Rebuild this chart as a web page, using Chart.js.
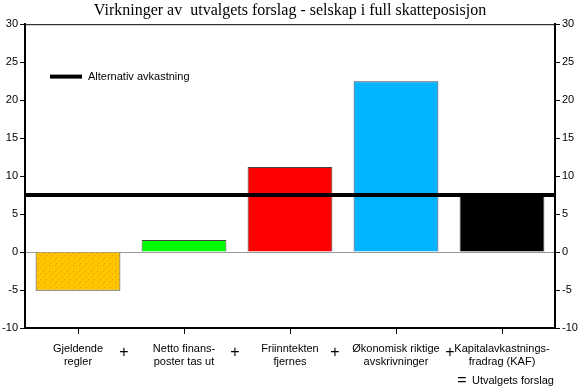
<!DOCTYPE html>
<html>
<head>
<meta charset="utf-8">
<script src="https://cdn.jsdelivr.net/npm/chart.js@4/dist/chart.umd.min.js"></script>
<style>
  html, body { margin: 0; padding: 0; background: #fff; }
  #wrap { width: 580px; height: 390px; }
</style>
</head>
<body>
<div id="wrap"><canvas id="my-canvas" width="580" height="390"></canvas></div>
<script>
const categories = [
  ['Gjeldende', 'regler'],
  ['Netto finans-', 'poster tas ut'],
  ['Friinntekten', 'fjernes'],
  ['Økonomisk riktige', 'avskrivninger'],
  ['Kapitalavkastnings-', 'fradrag (KAF)'],
];
const effects = [-5.1, 1.6, 11.2, 22.5, 7.5];
const altReturn = 7.5;
const barColors = ['#FFC600', '#00FF00', '#FF0000', '#00B4FF', '#000000'];
const titleText = 'Virkninger av  utvalgets forslag - selskap i full skatteposisjon';
const legendText = 'Alternativ avkastning';
const sumText = 'Utvalgets forslag';

const FONT = 'Liberation Sans, Arial, sans-serif';

// dotted yellow fill like the original
function dotPattern(base) {
  const c = document.createElement('canvas');
  c.width = 6;
  c.height = 6;
  const g = c.getContext('2d');
  g.fillStyle = base;
  g.fillRect(0, 0, 6, 6);
  g.fillStyle = '#E0A000';
  g.fillRect(1, 1, 1, 1);
  g.fillRect(4, 3, 1, 1);
  g.fillRect(2, 5, 1, 1);
  return g.createPattern(c, 'repeat');
}

const fills = barColors.slice();
fills[0] = dotPattern(barColors[0]);

// the plus signs don't sit exactly midway in the original
const plusShift = [-7, -2, -8, 1];

const extras = {
  id: 'extras',
  afterDatasetsDraw(chart) {
    const { ctx, chartArea, scales } = chart;
    ctx.save();
    // alternative return line
    const y = scales.y.getPixelForValue(altReturn);
    ctx.strokeStyle = '#000';
    ctx.lineWidth = 4;
    ctx.beginPath();
    ctx.moveTo(chartArea.left, y);
    ctx.lineTo(chartArea.right, y);
    ctx.stroke();

    // legend
    const ly = scales.y.getPixelForValue(23.1);
    ctx.beginPath();
    ctx.moveTo(chartArea.left + 25, ly);
    ctx.lineTo(chartArea.left + 57, ly);
    ctx.stroke();
    ctx.fillStyle = '#000';
    ctx.font = '11px ' + FONT;
    ctx.textBaseline = 'middle';
    ctx.textAlign = 'left';
    ctx.fillText(legendText, chartArea.left + 63, ly);

    // top border
    ctx.lineWidth = 1;
    ctx.beginPath();
    ctx.moveTo(chartArea.left, chartArea.top + 0.5);
    ctx.lineTo(chartArea.right, chartArea.top + 0.5);
    ctx.stroke();

    // plus signs between categories
    ctx.font = '16px ' + FONT;
    ctx.textAlign = 'center';
    for (let i = 0; i < effects.length - 1; i++) {
      const x = (scales.x.getPixelForValue(i) + scales.x.getPixelForValue(i + 1)) / 2;
      ctx.fillText('+', x + plusShift[i], chartArea.bottom + 25);
    }
    // equals line
    ctx.fillText('=', 462, 381);
    ctx.font = '11px ' + FONT;
    ctx.textAlign = 'left';
    ctx.fillText(sumText, 472, 381);
    ctx.restore();
  },
};

const yAxis = (pos) => ({
  type: 'linear',
  position: pos,
  min: -10,
  max: 30,
  ticks: {
    stepSize: 5,
    color: '#000',
    font: { family: FONT, size: 11 },
    padding: 2,
  },
  grid: {
    drawOnChartArea: pos === 'left',
    color: ctx => (ctx.tick && ctx.tick.value === 0 ? '#999' : 'rgba(0,0,0,0)'),
    tickColor: '#000',
    tickLength: 5,
    lineWidth: 1,
  },
  border: { color: '#000', width: 2 },
  afterFit: scale => { scale.width = 25; },
});

new Chart('my-canvas', {
  type: 'bar',
  data: {
    labels: categories,
    datasets: [{
      data: effects,
      backgroundColor: fills,
      borderColor: '#444',
      borderWidth: 1,
      barPercentage: 0.8,
      categoryPercentage: 1,
    }],
  },
  plugins: [extras],
  options: {
    responsive: false,
    animation: false,
    devicePixelRatio: 1,
    layout: { padding: 0 },
    plugins: {
      legend: { display: false },
      tooltip: { enabled: false },
      title: {
        display: true,
        text: titleText,
        color: '#000',
        font: { family: 'Liberation Serif, Times New Roman, serif', size: 16, weight: 'normal' },
        padding: { top: 1, bottom: 4 },
      },
    },
    scales: {
      x: {
        ticks: {
          color: '#000',
          font: { family: FONT, size: 11 },
          padding: 8,
          maxRotation: 0,
          autoSkip: false,
        },
        grid: {
          offset: false,
          drawOnChartArea: false,
          color: '#000',
          tickLength: 6,
        },
        border: { color: '#000', width: 2 },
        afterFit: scale => { scale.height = 62; },
      },
      y: yAxis('left'),
      y2: yAxis('right'),
    },
  },
});
</script>
</body>
</html>
